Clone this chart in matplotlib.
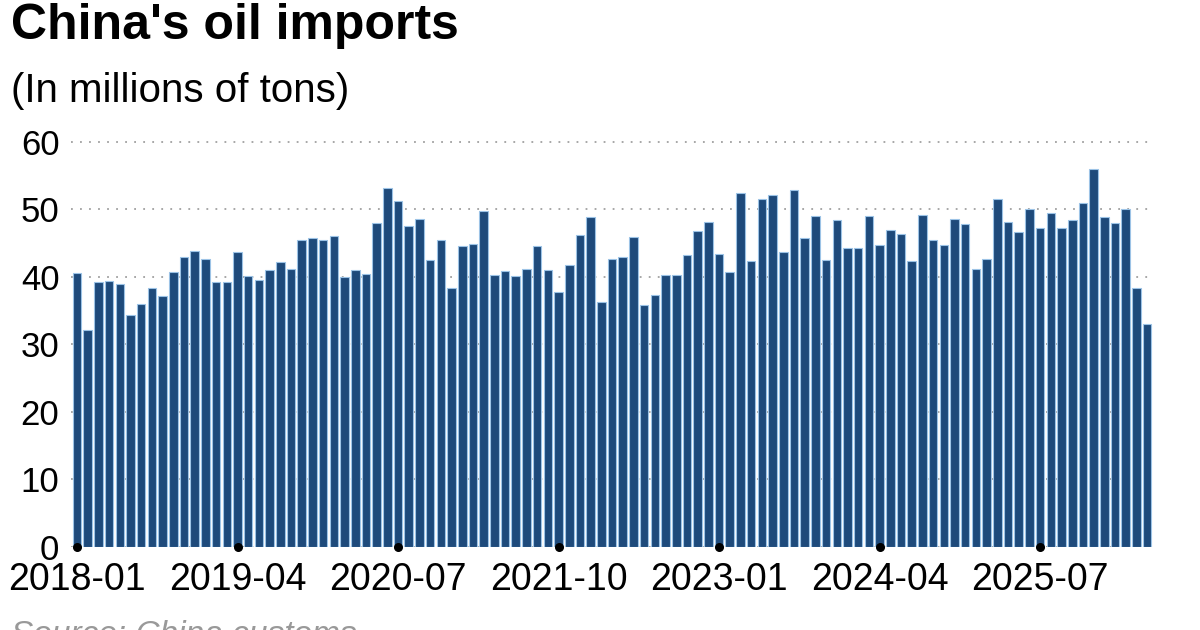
import pandas as pd
import matplotlib.pyplot as plt

# Monthly crude oil imports, millions of tons
months = pd.period_range('2018-01', periods=101, freq='M').strftime('%Y-%m').tolist()
imports = [
    40.6, 32.1, 39.2, 39.4, 39.0, 34.3, 36.0, 38.3, 37.1, 40.7, 42.9, 43.8,
    42.6, 39.2, 39.3, 43.7, 40.1, 39.5, 41.0, 42.2, 41.2, 45.5, 45.7, 45.5,
    46.1, 40.0, 41.0, 40.4, 48.0, 53.2, 51.3, 47.5, 48.5, 42.5, 45.4, 38.4,
    44.6, 44.9, 49.7, 40.3, 40.9, 40.1, 41.2, 44.5, 41.0, 37.8, 41.8, 46.2,
    48.8, 36.3, 42.7, 43.0, 45.9, 35.8, 37.3, 40.3, 40.2, 43.2, 46.8, 48.1,
    43.4, 40.7, 52.4, 42.4, 51.5, 52.1, 43.7, 52.9, 45.7, 49.0, 42.5, 48.4,
    44.2, 44.2, 49.0, 44.7, 47.0, 46.4, 42.3, 49.1, 45.5, 44.7, 48.5, 47.9,
    41.1, 42.7, 51.5, 48.1, 46.6, 50.0, 47.3, 49.5, 47.3, 48.4, 51.0, 56.0,
    48.9, 48.0, 50.0, 38.4, 33.0,
]
tick_step = 15
y_ticks = [0, 10, 20, 30, 40, 50, 60]

plt.rcParams['font.family'] = ['Liberation Sans', 'DejaVu Sans']

fig = plt.figure(figsize=(12, 6.3), dpi=100)
ax = fig.add_axes([0.0588, 0.132, 0.9025, 0.6536])

x = list(range(len(months)))
ax.bar(x, imports, width=0.8, color='#1e4a7b', edgecolor='#9cc3e6',
       linewidth=0.8, zorder=2)

# dotted horizontal gridlines
ax.set_yticks(y_ticks)
ax.yaxis.grid(True, linestyle=(0, (1, 4)), color='#a0a0a0', linewidth=1.3, zorder=1)
ax.set_axisbelow(True)

ticks = x[::tick_step]
ax.set_xticks(ticks)
ax.set_xticklabels([months[i] for i in ticks])
ax.scatter(ticks, [0] * len(ticks), s=30, color='black', zorder=3, clip_on=False)

ax.set_xlim(-0.6, len(months) - 0.4)
ax.set_ylim(0, 61)

for s in ax.spines.values():
    s.set_visible(False)
ax.tick_params(axis='x', length=0, pad=11, labelsize=27)
ax.tick_params(axis='y', length=0, pad=8, labelsize=25)

fig.text(0.009, 0.938, "China's oil imports", fontsize=36, fontweight='bold', va='baseline')
fig.text(0.009, 0.838, "(In millions of tons)", fontsize=29, va='baseline')
fig.text(0.009, -0.022, "Source: China customs", fontsize=24, style='italic',
         color='#999999', va='baseline')

fig.savefig('out.png', dpi=100)
